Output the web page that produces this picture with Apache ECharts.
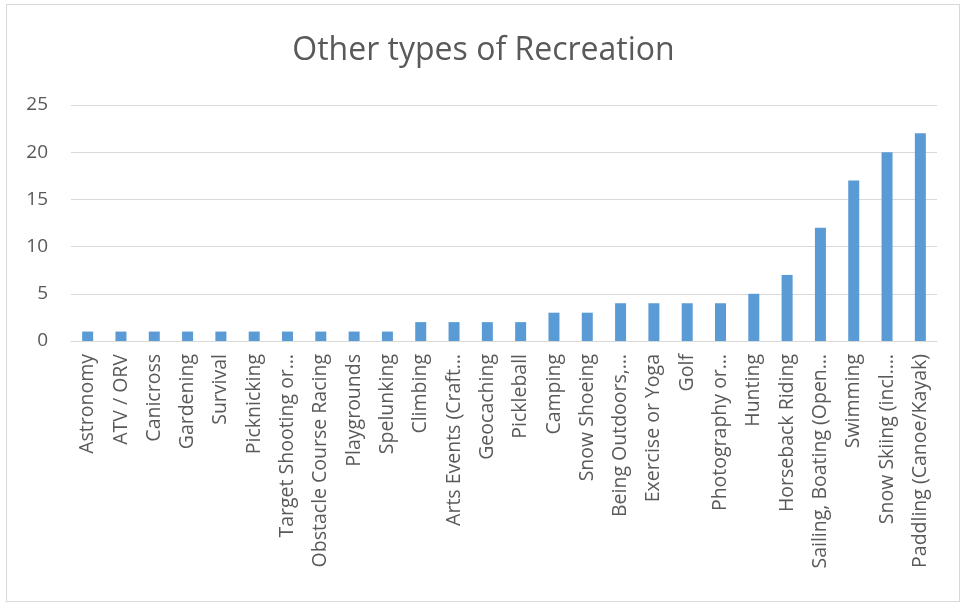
<!DOCTYPE html>
<html>
<head>
<meta charset="utf-8">
<script src="https://cdn.jsdelivr.net/npm/echarts@6/dist/echarts.min.js"></script>
<style>
html,body{margin:0;padding:0;background:#fff;}
#wrap{position:absolute;left:6px;top:4px;width:954px;height:598px;border:1px solid #d9d9d9;box-sizing:border-box;}
#chart{position:absolute;left:0;top:0;width:967px;height:606px;}
</style>
</head>
<body>
<div id="wrap"></div>
<div id="chart"></div>
<script>
const categories = ["Astronomy","ATV / ORV","Canicross","Gardening","Survival","Picknicking","Target Shooting or…","Obstacle Course Racing","Playgrounds","Spelunking","Climbing","Arts Events (Craft…","Geocaching","Pickleball","Camping","Snow Shoeing","Being Outdoors,…","Exercise or Yoga","Golf","Photography or…","Hunting","Horseback Riding","Sailing, Boating (Open…","Swimming","Snow Skiing (incl.…","Paddling (Canoe/Kayak)"];
const values = [1,1,1,1,1,1,1,1,1,1,2,2,2,2,3,3,4,4,4,4,5,7,12,17,20,22];
const yTicks = [0,5,10,15,20,25];
const title = "Other types of Recreation";

const chart = echarts.init(document.getElementById('chart'));
const font = "'Open Sans', 'Noto Sans', sans-serif";
chart.setOption({
  animation:false,
  title:{text:title,left:'center',top:30,textStyle:{fontFamily:font,fontSize:32,fontWeight:'normal',color:'#595959'}},
  grid:{left:71,right:30,top:105,bottom:265,containLabel:false},
  xAxis:{type:'category',data:categories,
    axisLine:{lineStyle:{color:'#d9d9d9',width:1}},
    axisTick:{show:false},
    axisLabel:{rotate:90,interval:0,margin:13,fontFamily:font,fontSize:19.5,color:'#595959'}},
  yAxis:{type:'value',min:yTicks[0],max:yTicks[yTicks.length-1],interval:5,
    axisLine:{show:false},axisTick:{show:false},
    splitLine:{lineStyle:{color:'#d9d9d9',width:1}},
    axisLabel:{margin:23,fontFamily:font,fontSize:19,color:'#595959'}},
  series:[{type:'bar',data:values,barWidth:11,itemStyle:{color:'#5b9bd5'}}]
});
</script>
</body>
</html>
